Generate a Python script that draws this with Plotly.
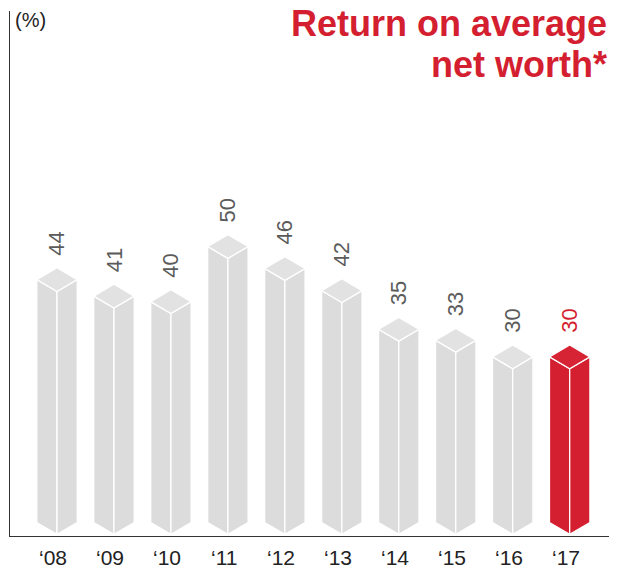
import plotly.graph_objects as go

years = ["\u201808", "\u201809", "\u201810", "\u201811", "\u201812", "\u201813", "\u201814", "\u201815", "\u201816", "\u201817"]
values = [44, 41, 40, 50, 46, 42, 35, 33, 30, 30]
highlight = [False] * 9 + [True]

GRAY_FACE = "#dcdcdd"
GRAY_TOP = "#e2e2e3"
RED_FACE = "#d41f30"
RED_TOP = "#d62434"
LABEL_GRAY = "#5b5b5b"
FONT = "Liberation Sans, Arial, sans-serif"

W = 0.355   # half width of a bar in category units
H = 2.15    # isometric offset in value units

fig = go.Figure()

def poly(xs, ys, color):
    fig.add_trace(go.Scatter(
        x=xs + [xs[0]], y=ys + [ys[0]], mode="lines", fill="toself",
        fillcolor=color, line=dict(color="white", width=1.3),
        hoverinfo="skip", showlegend=False))

for i, (v, hl) in enumerate(zip(values, highlight)):
    face = RED_FACE if hl else GRAY_FACE
    top = RED_TOP if hl else GRAY_TOP
    poly([i - W, i, i, i - W], [H, 0, v, v + H], face)
    poly([i, i + W, i + W, i], [0, H, v + H, v], face)
    poly([i, i - W, i, i + W], [v, v + H, v + 2 * H, v + H], top)
    fig.add_annotation(
        x=i, y=v + 2 * H, text=str(v), textangle=-90, showarrow=False,
        xanchor="center", yanchor="bottom", yshift=10,
        font=dict(size=22, color=RED_FACE if hl else LABEL_GRAY, family=FONT))

for i, yr in enumerate(years):
    fig.add_annotation(
        x=i, y=0, xref="x", yref="paper", text=yr, showarrow=False,
        xanchor="center", yanchor="top", xshift=-4, yshift=-8,
        font=dict(size=21, color="#222222", family=FONT))

title_lines = ["Return on average", "net worth*"]
for k, line in enumerate(title_lines):
    fig.add_annotation(
        xref="paper", yref="paper", x=1, y=1, xanchor="right", yanchor="top",
        xshift=0, yshift=10 - 41 * k, align="right", showarrow=False,
        text="<b>" + line + "</b>",
        font=dict(size=36, color="#d41f30", family=FONT))

fig.add_annotation(
    xref="paper", yref="paper", x=0, y=1, xanchor="left", yanchor="top",
    xshift=3, yshift=4, showarrow=False, text="(%)",
    font=dict(size=20, color="#222222", family=FONT))

fig.update_layout(
    width=624, height=573,
    margin=dict(l=10, r=15, t=11, b=37, autoexpand=False),
    plot_bgcolor="white", paper_bgcolor="white",
    font=dict(family=FONT),
    xaxis=dict(range=[-0.825, 9.69], showticklabels=False, automargin=False,
               showgrid=False, zeroline=False, showline=True,
               linecolor="#333333", linewidth=1, ticks=""),
    yaxis=dict(range=[-0.3, 94.8], showgrid=False, zeroline=False,
               automargin=False,
               showline=True, linecolor="#333333", linewidth=1,
               showticklabels=False, ticks=""),
)

fig.write_html("out.html", config={"displayModeBar": False},
               post_script="document.body.style.margin='0px';")
